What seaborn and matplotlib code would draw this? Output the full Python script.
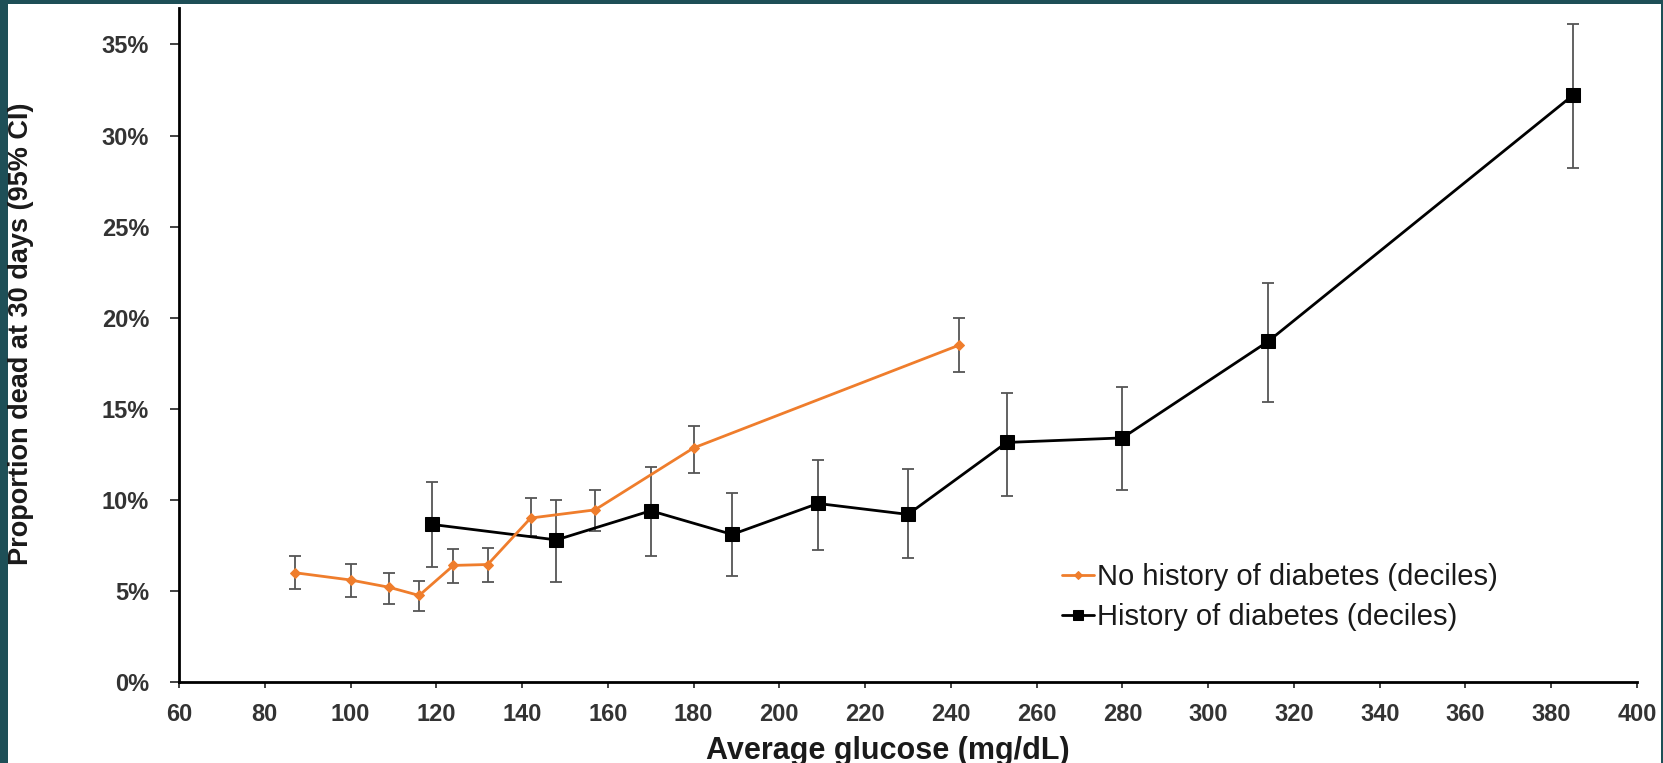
import matplotlib
matplotlib.use("Agg")
import matplotlib.pyplot as plt
from matplotlib.patches import Rectangle
from matplotlib.ticker import PercentFormatter
import seaborn as sns
import pandas as pd

# ---- data ----
no_hist_glucose = [87, 100, 109, 116, 124, 132, 142, 157, 180, 242]
no_hist_pct     = [6.0, 5.6, 5.2, 4.75, 6.4, 6.45, 9.0, 9.45, 12.85, 18.5]
no_hist_lo      = [5.1, 4.65, 4.3, 3.9, 5.45, 5.5, 8.0, 8.3, 11.5, 17.0]
no_hist_hi      = [6.9, 6.5, 6.0, 5.55, 7.3, 7.35, 10.1, 10.55, 14.05, 20.0]

hist_glucose = [119, 148, 170, 189, 209, 230, 253, 280, 314, 385]
hist_pct     = [8.65, 7.8, 9.4, 8.1, 9.8, 9.2, 13.15, 13.4, 18.7, 32.2]
hist_lo      = [6.3, 5.5, 6.9, 5.8, 7.25, 6.8, 10.2, 10.55, 15.35, 28.2]
hist_hi      = [11.0, 10.0, 11.8, 10.4, 12.2, 11.7, 15.85, 16.2, 21.9, 36.1]

label_no = "No history of diabetes (deciles)"
label_yes = "History of diabetes (deciles)"
x_ticks = list(range(60, 401, 20))
y_ticks = [0, 5, 10, 15, 20, 25, 30, 35]

df_no = pd.DataFrame({"glucose": no_hist_glucose, "pct": no_hist_pct})
df_yes = pd.DataFrame({"glucose": hist_glucose, "pct": hist_pct})

sns.set_theme(style="white")
plt.rcParams["font.family"] = ["Liberation Sans", "DejaVu Sans"]

W, H = 1663, 763
fig = plt.figure(figsize=(W / 100, H / 100), dpi=100)
fig.patch.set_facecolor("#1e4f57")
fig.add_artist(Rectangle((8 / W, 0), (1661 - 8) / W, (763 - 4) / H,
                         transform=fig.transFigure, facecolor="white",
                         edgecolor="none", zorder=-10))

ax_l, ax_r, ax_b, ax_t = 179, 1637, 682, 8
ax = fig.add_axes([ax_l / W, 1 - ax_b / H, (ax_r - ax_l) / W, (ax_b - ax_t) / H])
ax.set_facecolor("white")

orange = "#ef7d2c"
err_col = "#555555"

# error bars
ax.errorbar(no_hist_glucose, no_hist_pct,
            yerr=[[p - l for p, l in zip(no_hist_pct, no_hist_lo)],
                  [h - p for p, h in zip(no_hist_pct, no_hist_hi)]],
            fmt="none", ecolor=err_col, elinewidth=1.3, capsize=4, capthick=1.3, zorder=2)
ax.errorbar(hist_glucose, hist_pct,
            yerr=[[p - l for p, l in zip(hist_pct, hist_lo)],
                  [h - p for p, h in zip(hist_pct, hist_hi)]],
            fmt="none", ecolor=err_col, elinewidth=1.3, capsize=4, capthick=1.3, zorder=2)

# lines
sns.lineplot(data=df_no, x="glucose", y="pct", ax=ax, sort=False, estimator=None,
             color=orange, linewidth=2.0, marker="D", markersize=5.5,
             markeredgecolor=orange, label=label_no, zorder=4)
sns.lineplot(data=df_yes, x="glucose", y="pct", ax=ax, sort=False, estimator=None,
             color="black", linewidth=2.0, marker="s", markersize=9.5,
             markeredgecolor="black", label=label_yes, zorder=3)

ax.set_xlim(60, 400)
ax.set_ylim(0, 37)
ax.set_xticks(x_ticks)
ax.set_yticks(y_ticks)
ax.yaxis.set_major_formatter(PercentFormatter(xmax=100, decimals=0))

for s in ["top", "right"]:
    ax.spines[s].set_visible(False)
for s in ["left", "bottom"]:
    ax.spines[s].set_color("black")
    ax.spines[s].set_linewidth(2.0)

ax.tick_params(axis="y", direction="out", length=6.5, width=1.3, color="#333333",
               pad=15, labelsize=17, labelcolor="#333333", left=True)
ax.tick_params(axis="x", direction="out", length=4, width=1.3, color="#333333",
               pad=11, labelsize=17, labelcolor="#333333", bottom=True)
for lab in ax.get_xticklabels() + ax.get_yticklabels():
    lab.set_fontweight("bold")

ax.set_xlabel("Average glucose (mg/dL)", fontsize=22, fontweight="bold",
              color="#1a1a1a", va="center")
ax.xaxis.set_label_coords((888 - ax_l) / (ax_r - ax_l), (ax_b - 751) / (ax_b - ax_t))
ax.set_ylabel("Proportion dead at 30 days (95% CI)", fontsize=19.5, fontweight="bold",
              color="#1a1a1a", va="center",
              family=["Liberation Sans Narrow", "Liberation Sans", "DejaVu Sans"])
ax.yaxis.set_label_coords((21 - ax_l) / (ax_r - ax_l), (ax_b - 334) / (ax_b - ax_t))

leg = ax.legend(loc="center left",
                bbox_to_anchor=((1062 - ax_l) / (ax_r - ax_l), (ax_b - 597) / (ax_b - ax_t)),
                frameon=False, fontsize=21, handlelength=1.1, handletextpad=0.1,
                labelspacing=0.42, borderaxespad=0, borderpad=0, markerscale=0.7)
for t in leg.get_texts():
    t.set_color("#1a1a1a")

fig.savefig("out.png", dpi=100, facecolor=fig.get_facecolor())
